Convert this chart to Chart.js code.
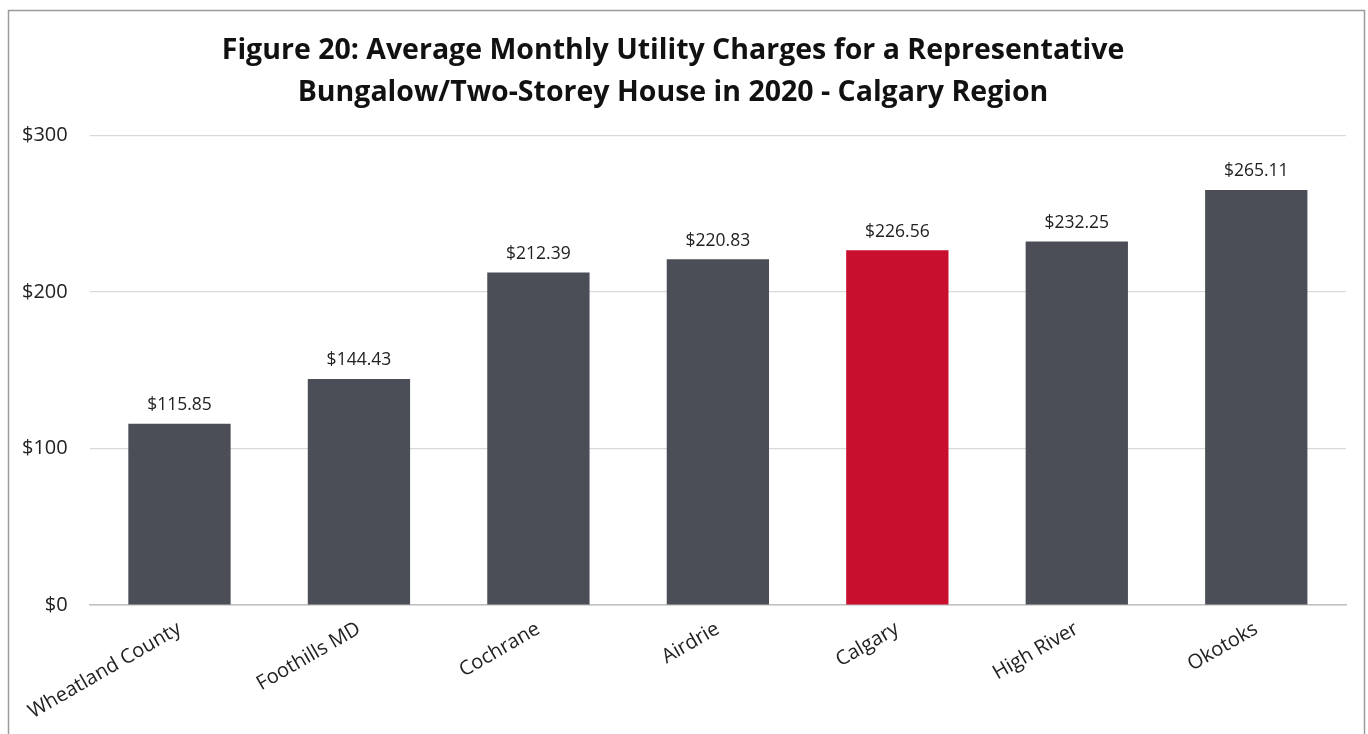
<!DOCTYPE html>
<html>
<head>
<meta charset="utf-8">
<script src="https://cdn.jsdelivr.net/npm/chart.js@4/dist/chart.umd.min.js"></script>
<style>
  html, body { margin: 0; padding: 0; background: #fff; }
  #wrap { position: relative; width: 1368px; height: 734px; }
</style>
</head>
<body>
<div id="wrap"><canvas id="utilityChart"></canvas></div>
<script>
const municipalities = ['Wheatland County', 'Foothills MD', 'Cochrane', 'Airdrie', 'Calgary', 'High River', 'Okotoks'];
const monthlyCharges = [115.85, 144.43, 212.39, 220.83, 226.56, 232.25, 265.11];
const barColors = ['#4b4e56', '#4b4e56', '#4b4e56', '#4b4e56', '#c8102e', '#4b4e56', '#4b4e56'];
const yTicks = [0, 100, 200, 300];

const titleLines = [
    'Figure 20: Average Monthly Utility Charges for a Representative',
    'Bungalow/Two-Storey House in 2020 - Calgary Region'
];

Chart.defaults.font.family = '"Open Sans", "DejaVu Sans", sans-serif';
Chart.defaults.color = '#222';

// frame around the whole figure
const framePlugin = {
    id: 'frame',
    afterDraw(chart) {
        const c = chart.ctx;
        c.save();
        c.strokeStyle = '#9a9a9a';
        c.lineWidth = 1.5;
        c.strokeRect(8.5, 10.5, 1356, 740);
        c.restore();
    }
};

// value labels above each bar
const valueLabels = {
    id: 'valueLabels',
    afterDatasetsDraw(chart) {
        const c = chart.ctx;
        const meta = chart.getDatasetMeta(0);
        c.save();
        c.font = '17.5px "Open Sans", sans-serif';
        c.fillStyle = '#222';
        c.textAlign = 'center';
        c.textBaseline = 'bottom';
        meta.data.forEach(function (bar, i) {
            c.fillText('$' + monthlyCharges[i].toFixed(2), bar.x, bar.y - 10);
        });
        c.restore();
    }
};

new Chart(document.getElementById('utilityChart'), {
    type: 'bar',
    data: {
        labels: municipalities,
        datasets: [{
            data: monthlyCharges,
            backgroundColor: barColors,
            categoryPercentage: 1,
            barPercentage: 0.57
        }]
    },
    options: {
        responsive: true,
        maintainAspectRatio: false,
        animation: false,
        layout: { padding: { top: 12, left: 0, right: 22, bottom: -2 } },
        plugins: {
            legend: { display: false },
            tooltip: { enabled: false },
            title: {
                display: true,
                text: titleLines,
                color: '#111',
                font: { size: 28.5, weight: 'bold', lineHeight: 1.48 },
                padding: { top: 18, bottom: 21 }
            }
        },
        scales: {
            x: {
                grid: { display: false, drawTicks: false },
                border: { color: '#bfbfbf', width: 1.5 },
                ticks: {
                    minRotation: 30,
                    maxRotation: 30,
                    padding: 12,
                    color: '#222',
                    font: { size: 20 }
                }
            },
            y: {
                min: 0,
                max: 300,
                afterBuildTicks(axis) {
                    axis.ticks = yTicks.map(v => ({ value: v }));
                },
                grid: { color: '#d9d9d9', drawTicks: false, lineWidth: 1.2 },
                border: { display: false },
                ticks: {
                    padding: 22,
                    color: '#222',
                    font: { size: 20 },
                    callback: v => '$' + v
                }
            }
        }
    },
    plugins: [framePlugin, valueLabels]
});
</script>
</body>
</html>
